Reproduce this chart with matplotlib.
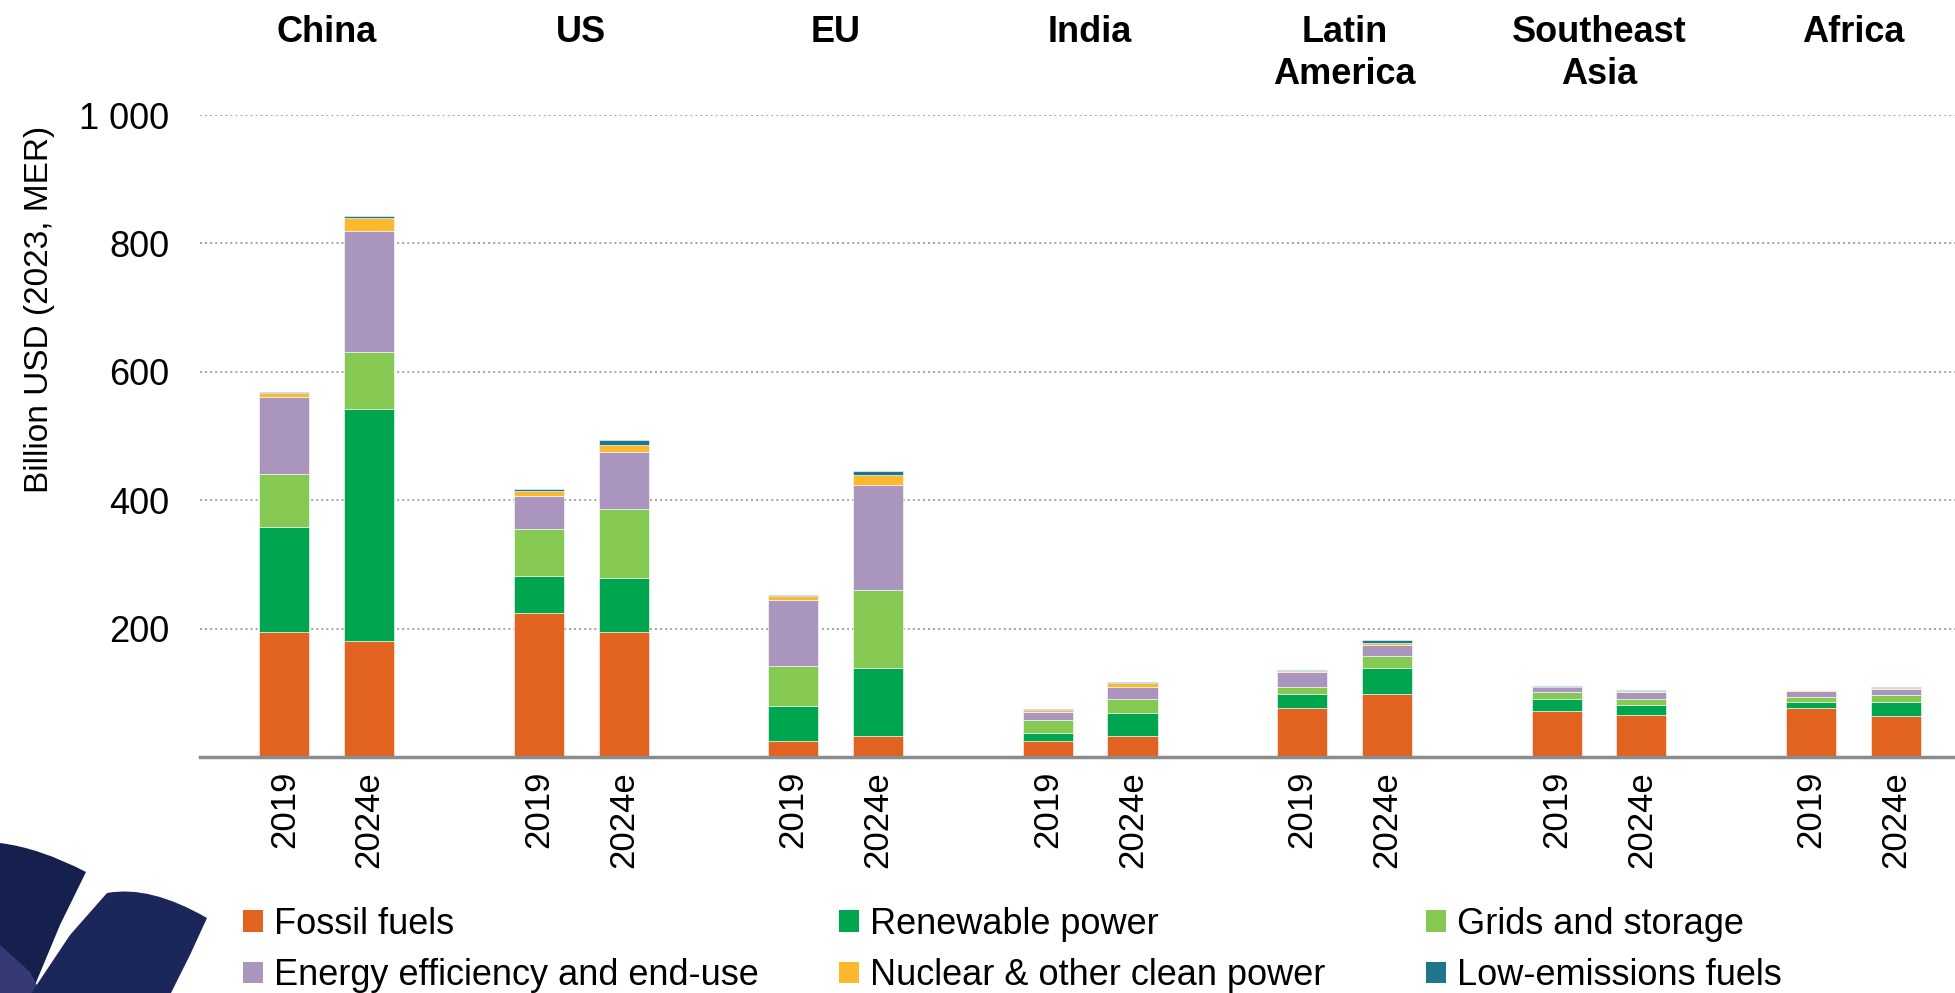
import numpy as np
import matplotlib
matplotlib.use("Agg")
import matplotlib.pyplot as plt
from matplotlib.patches import Patch, PathPatch
from matplotlib.path import Path
from matplotlib.ticker import FuncFormatter

plt.rcParams['font.family'] = ['Liberation Sans', 'DejaVu Sans']

# regions and years
regions = ["China", "US", "EU", "India", "Latin\nAmerica", "Southeast\nAsia", "Africa"]
years = ["2019", "2024e"]

# values per category, ordered region by region: 2019 then 2024e (billion USD)
fossil      = [195, 181, 224, 194, 25, 32, 25, 32, 76, 98, 72, 65, 77, 64]
renewable   = [163, 361, 58, 85, 55, 107, 12, 37, 22, 41, 19, 16, 8, 21]
grids       = [83, 89, 73, 108, 61, 121, 21, 21, 11, 19, 11, 10, 9, 11]
efficiency  = [119, 188, 51, 88, 103, 164, 12, 19, 24, 17, 7, 11, 9, 10]
nuclear     = [7, 20, 8, 11, 7, 15, 3, 7, 1, 3, 0.5, 0.5, 1, 2]
low_em      = [1.5, 4, 3, 8, 1.5, 6, 1, 1, 2, 4, 1, 1.5, 0.5, 0.5]

labels = ["Fossil fuels", "Renewable power", "Grids and storage",
          "Energy efficiency and end-use", "Nuclear & other clean power",
          "Low-emissions fuels"]
colors = ["#E2621F", "#00A54F", "#86C952", "#A995BD", "#FDB92E", "#1F768A"]
series = [fossil, renewable, grids, efficiency, nuclear, low_em]

W, H = 1956, 993
fig = plt.figure(figsize=(W / 100, H / 100), dpi=100)
ax = fig.add_axes([200 / W, 1 - 757 / H, 1 - 200 / W, (757 - 115) / H])

# bar positions: two bars per region, one empty slot between regions
xpos = np.array([3 * r + y for r in range(len(regions)) for y in range(len(years))])

bottom = np.zeros(len(xpos))
for vals, col, lab in zip(series, colors, labels):
    vals = np.array(vals, dtype=float)
    ax.bar(xpos, vals, width=0.59, bottom=bottom, color=col, label=lab,
           edgecolor="white", linewidth=0.4, zorder=3)
    bottom += vals

ax.set_xlim(-0.995, 19.71)
ax.set_ylim(0, 1000)

# y axis
ax.set_yticks([200, 400, 600, 800, 1000])
ax.yaxis.set_major_formatter(FuncFormatter(lambda v, p: "{:,.0f}".format(v).replace(",", " ")))
ax.tick_params(axis="y", length=0, pad=22, labelsize=26)
ax.grid(axis="y", color="#A3A3A3", linestyle=(0, (1, 1.6)), linewidth=1.4, zorder=0)

# x axis
ax.set_xticks(xpos)
ax.set_xticklabels(years * len(regions), rotation=90, fontsize=25)
ax.tick_params(axis="x", length=0, pad=10)

for s in ["top", "right", "left"]:
    ax.spines[s].set_visible(False)
ax.spines["bottom"].set_color("#8C8C8C")
ax.spines["bottom"].set_linewidth(2.5)
ax.spines["bottom"].set_zorder(4)

# region titles
for i, reg in enumerate(regions):
    ax.text(3 * i + 0.5, 1.156, reg, transform=ax.get_xaxis_transform(),
            ha="center", va="top", fontsize=26, fontweight="bold",
            linespacing=1.25, clip_on=False)

fig.text(40 / W, 1 - 309 / H, "Billion USD (2023, MER)", rotation=90,
         ha="center", va="center", fontsize=24)

# legend in three columns
col_x = [243, 839, 1426]
for c in range(3):
    handles = [Patch(facecolor=colors[c], label=labels[c]),
               Patch(facecolor=colors[c + 3], label=labels[c + 3])]
    fig.legend(handles=handles, loc="upper left",
               bbox_to_anchor=(col_x[c] / W, 1 - 907 / H),
               frameon=False, fontsize=26, handlelength=0.55, handleheight=0.55,
               handletextpad=0.3, labelspacing=0.45, borderpad=0, borderaxespad=0)

# logo ribbons, bottom-left corner
def px(points):
    return [(x / W, 1 - y / H) for x, y in points]

verts_a = px([(0, 843), (40, 848), (86, 872), (60, 925), (35, 985), (0, 995), (0, 843)])
codes_a = [Path.MOVETO, Path.CURVE3, Path.CURVE3, Path.LINETO, Path.LINETO, Path.LINETO, Path.CLOSEPOLY]
fig.patches.append(PathPatch(Path(verts_a, codes_a), facecolor="#15204E",
                             edgecolor="none", transform=fig.transFigure))
verts_b = px([(0, 945), (30, 972), (42, 995), (0, 995), (0, 945)])
fig.patches.append(PathPatch(Path(verts_b, [Path.MOVETO, Path.LINETO, Path.LINETO, Path.LINETO, Path.CLOSEPOLY]),
                             facecolor="#363A74", edgecolor="none", transform=fig.transFigure))
verts_c = px([(107, 893), (150, 885), (207, 918), (190, 955), (170, 995),
              (30, 995), (70, 935), (107, 893)])
codes_c = [Path.MOVETO, Path.CURVE3, Path.CURVE3, Path.LINETO, Path.LINETO,
           Path.LINETO, Path.LINETO, Path.CLOSEPOLY]
fig.patches.append(PathPatch(Path(verts_c, codes_c), facecolor="#1C2759",
                             edgecolor="none", transform=fig.transFigure))

fig.savefig("out.png", dpi=100)
